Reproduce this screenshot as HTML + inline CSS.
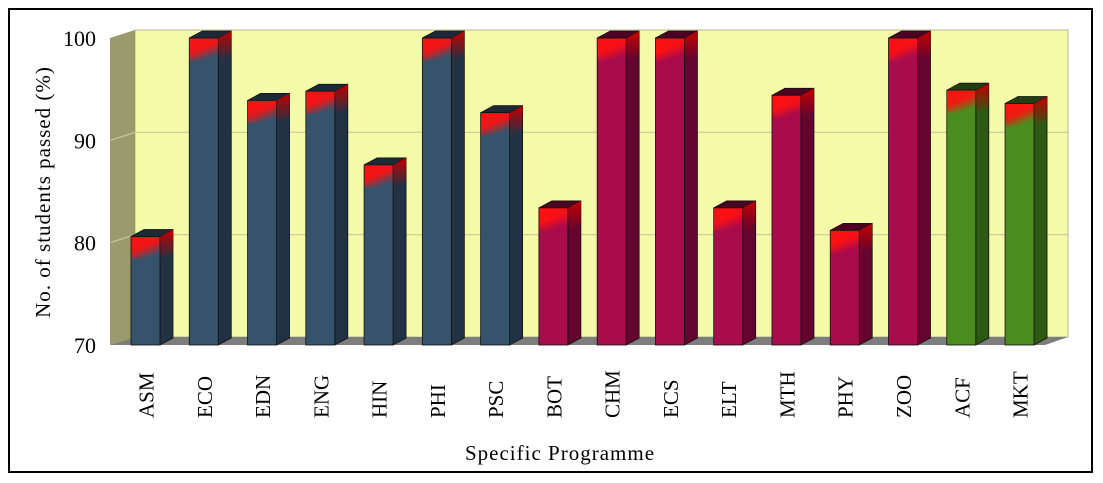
<!DOCTYPE html>
<html><head><meta charset="utf-8"><style>
body{margin:0;background:#fff;}
svg{display:block;font-family:"Liberation Serif",serif;}
</style></head><body>
<svg id="chart" width="1103" height="483" viewBox="0 0 1103 483">
<defs>
<linearGradient id="redtop" x1="0" y1="0" x2="0.5" y2="1">
<stop offset="0" stop-color="#ff1010" stop-opacity="1"/>
<stop offset="0.55" stop-color="#ff1010" stop-opacity="0.9"/>
<stop offset="1" stop-color="#ff1010" stop-opacity="0"/>
</linearGradient>
<linearGradient id="redside" x1="0" y1="0" x2="0" y2="1">
<stop offset="0" stop-color="#c00000" stop-opacity="1"/>
<stop offset="1" stop-color="#c00000" stop-opacity="0"/>
</linearGradient>
</defs>
<rect x="9" y="9" width="1083" height="463" fill="none" stroke="#000" stroke-width="2"/>
<polygon points="135,30 1068,30 1068,337 135,337" fill="#f4fba8" stroke="#b8b890" stroke-width="1"/>
<polygon points="110,38 135,30 135,337 110,345" fill="#9b9a6c"/>
<polygon points="110,345 135,337 1068,337 1045,345" fill="#7d7d7d"/>
<g id="grid"></g>
<g id="bars"></g>
<g id="yticks"></g>
<g id="xticks"></g>
<text transform="translate(50,192) rotate(-90)" text-anchor="middle" font-size="21" fill="#000" letter-spacing="1">No. of students passed (%)</text>
<text x="560" y="460" text-anchor="middle" font-size="21" fill="#000" letter-spacing="1">Specific Programme</text>
</svg>
<script>
const categories=["ASM","ECO","EDN","ENG","HIN","PHI","PSC","BOT","CHM","ECS","ELT","MTH","PHY","ZOO","ACF","MKT"];
const values=[80.6,100,93.9,94.8,87.6,100,92.7,83.4,100,100,83.4,94.4,81.2,100,94.9,93.6];
const groups=[0,0,0,0,0,0,0,1,1,1,1,1,1,1,2,2];
const yTicks=[70,80,90,100];
const ns="http://www.w3.org/2000/svg";
const front={front:"#36536b",side:"#213245",top:"#1c2a38"};
const pal=[{front:"#36536b",side:"#213245",top:"#1c2a38"},{front:"#a90c4c",side:"#640530",top:"#4a0322"},{front:"#4a8c1e",side:"#2d5913",top:"#214010"}];
const yMin=70,yMax=100,yB=345,yT=38;
function y(v){return yB-(v-yMin)/(yMax-yMin)*(yB-yT);}
function yBack(v){return 337-(v-yMin)/(yMax-yMin)*(337-30);}
function x(i){return 131+i*58.27;}
function mk(tag,attrs,parent){const e=document.createElementNS(ns,tag);for(const k in attrs)e.setAttribute(k,attrs[k]);parent.appendChild(e);return e;}
const grid=document.getElementById('grid'),bars=document.getElementById('bars'),yt=document.getElementById('yticks'),xt=document.getElementById('xticks');
yTicks.forEach(t=>{
 if(t>yMin&&t<yMax){
  const l=mk('line',{x1:135,x2:1068,y1:yBack(t),y2:yBack(t),stroke:"#c8c89a","stroke-width":1.2},grid);
  
  
  const l2=mk('line',{x1:110,x2:135,y1:y(t),y2:yBack(t),stroke:"#c8c89a","stroke-width":1.2},grid);
  
  
 }
 const tx=mk('text',{x:96,y:y(t)+8,"text-anchor":"end","font-size":22},yt);
 tx.textContent=t;
 
 
});
const w=29,d=13,h=7;
categories.forEach((c,i)=>{
 const p=pal[groups[i]];const x0=x(i),yt0=y(values[i]);
 const g=mk('g',{},bars);
 
 
 mk('polygon',{points:`${x0+w},${yt0} ${x0+w+d},${yt0-h} ${x0+w+d},${yB-h} ${x0+w},${yB}`,fill:p.side,stroke:"#111","stroke-width":0.8},g);
 mk('polygon',{points:`${x0},${yt0} ${x0+d},${yt0-h} ${x0+w+d},${yt0-h} ${x0+w},${yt0}`,fill:p.top,stroke:"#111","stroke-width":0.8},g);
 mk('rect',{x:x0,y:yt0,width:w,height:yB-yt0,fill:p.front,stroke:"#111","stroke-width":0.8},g);
 mk('rect',{x:x0+0.5,y:yt0+0.5,width:w-1,height:22,fill:"url(#redtop)"},g);
 mk('polygon',{points:`${x0+w},${yt0} ${x0+w+d},${yt0-h} ${x0+w+d},${yt0+16} ${x0+w},${yt0+23}`,fill:"url(#redside)"},g);
 const lb=mk('text',{transform:`translate(${x0+w/2+8},${418}) rotate(-90)`,"font-size":21},xt);
 lb.textContent=c;
 
 
});
</script>
</body></html>
